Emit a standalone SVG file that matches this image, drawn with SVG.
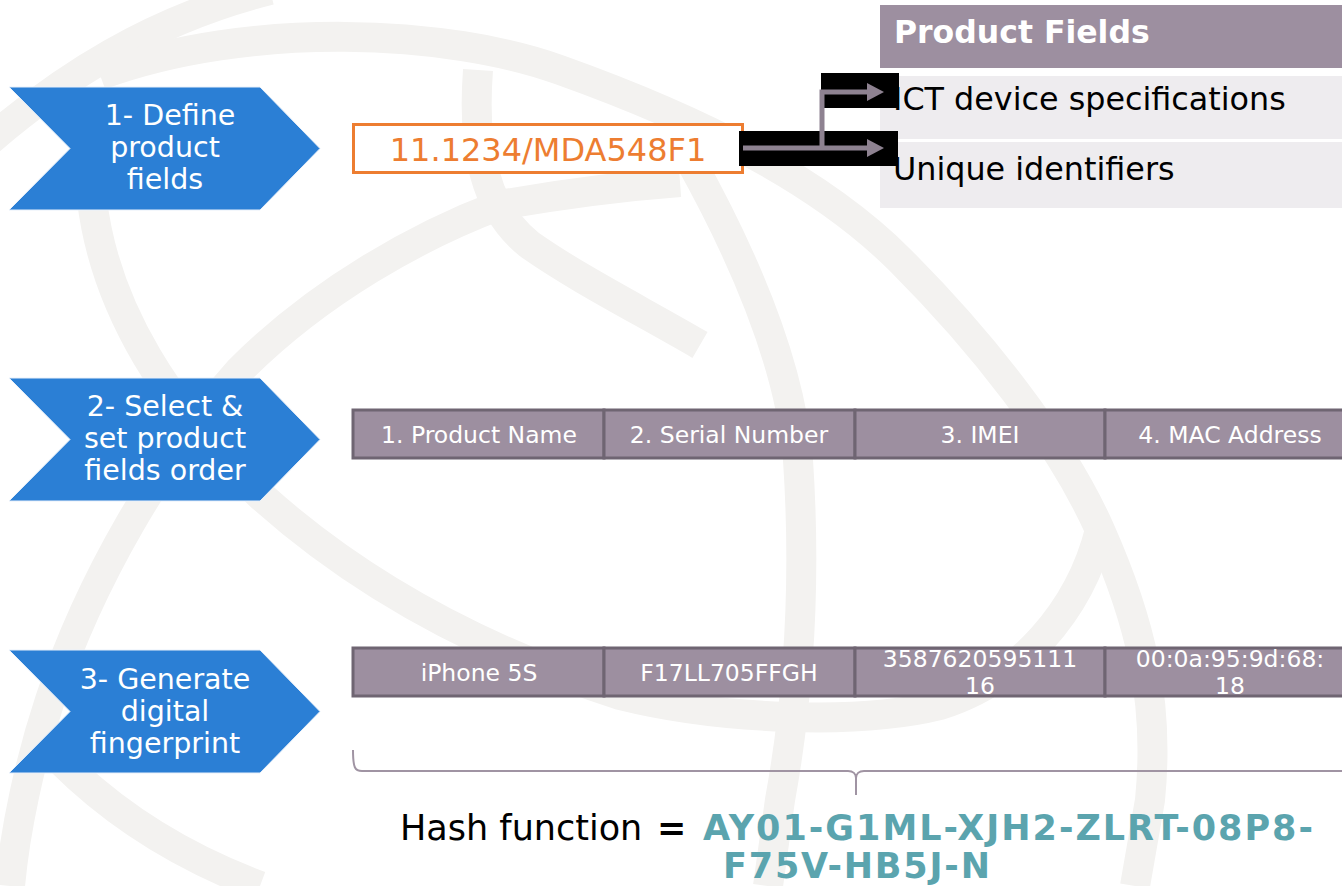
<svg xmlns="http://www.w3.org/2000/svg" width="1342" height="886" viewBox="0 0 1342 886">
<defs>
<style>
.wm{fill:none;stroke:#f3f2f0;stroke-width:30}
.chev{fill:#2b7fd5;stroke:#e8f0fa;stroke-width:1}
.stxt{font-family:"DejaVu Sans",Verdana,sans-serif;font-size:28.5px;fill:#ffffff;text-anchor:middle}
.cell{fill:#9d8fa0;stroke:#6f6572;stroke-width:3}
.ctxt{font-family:"DejaVu Sans",Verdana,sans-serif;font-size:23.5px;fill:#ffffff;text-anchor:middle}
.ftxt{font-family:"DejaVu Sans",Verdana,sans-serif;font-size:31.8px;fill:#000000}
.conn{fill:none;stroke:#8e8291;stroke-width:5}
</style>
<marker id="ah" viewBox="0 0 17 18" refX="1" refY="9" markerWidth="17" markerHeight="18" markerUnits="userSpaceOnUse" orient="auto">
<path d="M0,0 L17,9 L0,18 z" fill="#8e8291"/>
</marker>
</defs>
<rect width="1342" height="886" fill="#ffffff"/>
<g id="watermark">
<path class="wm" d="M-10,140 C60,80 150,20 270,-10"/>
<path class="wm" d="M100,75 C250,20 450,30 560,70 C700,120 820,180 900,260 C980,340 1060,440 1100,530 C1140,620 1160,700 1150,800 L1135,886"/>
<path class="wm" d="M478,70 C472,150 485,210 530,245 C580,280 640,310 700,345"/>
<path class="wm" d="M680,182 C600,188 540,198 500,205 C420,235 320,290 240,370 C160,460 90,580 50,700 C30,760 15,830 10,886"/>
<path class="wm" d="M92,200 C105,310 170,410 260,495 C360,585 480,650 620,695 C720,720 860,725 940,705 C1020,680 1080,610 1100,530"/>
<path class="wm" d="M690,160 C740,250 790,360 798,460 C806,580 800,690 780,800 L768,886"/>
<path class="wm" d="M60,760 C120,820 190,860 260,886"/>
</g>
<g id="step1">
<path class="chev" d="M9,87 L260,87 L320,148.5 L260,210 L9,210 L70,148.5 z"/>
<text class="stxt"><tspan x="170" y="125">1- Define</tspan><tspan x="165" y="157">product</tspan><tspan x="165" y="189">fields</tspan></text>
</g>
<g id="step2">
<path class="chev" d="M9,378 L260,378 L320,439.5 L260,501 L9,501 L70,439.5 z"/>
<text class="stxt"><tspan x="165" y="416">2- Select &amp;</tspan><tspan x="165" y="448">set product</tspan><tspan x="165" y="480">fields order</tspan></text>
</g>
<g id="step3">
<path class="chev" d="M9,650 L260,650 L320,711.5 L260,773 L9,773 L70,711.5 z"/>
<text class="stxt"><tspan x="165" y="689">3- Generate</tspan><tspan x="165" y="721">digital</tspan><tspan x="165" y="753">fingerprint</tspan></text>
</g>
<g id="doi-box">
<rect x="353.5" y="124.5" width="389" height="48" fill="#ffffff" stroke="#ed7d31" stroke-width="3"/>
<text x="548" y="161" font-family="DejaVu Sans, Verdana, sans-serif" font-size="32" fill="#ed7d31" text-anchor="middle">11.1234/MDA548F1</text>
</g>
<g id="product-fields">
<rect x="880" y="5" width="462" height="63" fill="#9d8fa0"/>
<text x="894" y="43" font-family="DejaVu Sans, Verdana, sans-serif" font-size="31.5" font-weight="bold" fill="#ffffff">Product Fields</text>
<rect x="880" y="76" width="462" height="63" fill="#eeecef"/>
<rect x="880" y="142" width="462" height="66" fill="#eeecef"/>
</g>
<g id="connectors">
<rect x="821" y="73" width="78" height="35" fill="#000000"/>
<rect x="739" y="131" width="159" height="35" fill="#000000"/>
<path class="conn" d="M743,148 L868,148" marker-end="url(#ah)"/>
<path class="conn" d="M822,148 L822,92 L868,92" marker-end="url(#ah)"/>
</g>
<g id="field-labels">
<text class="ftxt" x="893" y="110">ICT device specifications</text>
<text class="ftxt" x="893" y="180">Unique identifiers</text>
</g>
<g id="field-order">
<rect class="cell" x="353" y="410" width="251" height="48"/>
<rect class="cell" x="604" y="410" width="251" height="48"/>
<rect class="cell" x="855" y="410" width="250" height="48"/>
<rect class="cell" x="1105" y="410" width="250" height="48"/>
<text class="ctxt" x="479" y="443">1. Product Name</text>
<text class="ctxt" x="729" y="443">2. Serial Number</text>
<text class="ctxt" x="980" y="443">3. IMEI</text>
<text class="ctxt" x="1230" y="443">4. MAC Address</text>
</g>
<g id="field-values">
<rect class="cell" x="353" y="648" width="251" height="48"/>
<rect class="cell" x="604" y="648" width="251" height="48"/>
<rect class="cell" x="855" y="648" width="250" height="48"/>
<rect class="cell" x="1105" y="648" width="250" height="48"/>
<text class="ctxt" x="479" y="681">iPhone 5S</text>
<text class="ctxt" x="729" y="681">F17LL705FFGH</text>
<text class="ctxt"><tspan x="980" y="667">3587620595111</tspan><tspan x="980" y="694">16</tspan></text>
<text class="ctxt"><tspan x="1230" y="667">00:0a:95:9d:68:</tspan><tspan x="1230" y="694">18</tspan></text>
</g>
<g id="brace">
<path d="M353,750 C353,768 355,771 362,771 L848,771 C853,771 856,774 856,778 L856,795 M856,778 C856,774 859,771 864,771 L1345,771" fill="none" stroke="#a094a3" stroke-width="2"/>
</g>
<g id="hash">
<text x="400" y="840" font-family="DejaVu Sans, Verdana, sans-serif" font-size="35" fill="#000000">Hash function</text>
<text x="657" y="840" font-family="DejaVu Sans, Verdana, sans-serif" font-size="35" font-weight="bold" fill="#000000">=</text>
<text x="703" y="840" font-family="DejaVu Sans, Verdana, sans-serif" font-size="35" font-weight="bold" fill="#5ba4ae" textLength="610" lengthAdjust="spacing">AY01-G1ML-XJH2-ZLRT-08P8-</text>
<text x="723" y="878" font-family="DejaVu Sans, Verdana, sans-serif" font-size="35" font-weight="bold" fill="#5ba4ae" textLength="267" lengthAdjust="spacing">F75V-HB5J-N</text>
</g>
</svg>
